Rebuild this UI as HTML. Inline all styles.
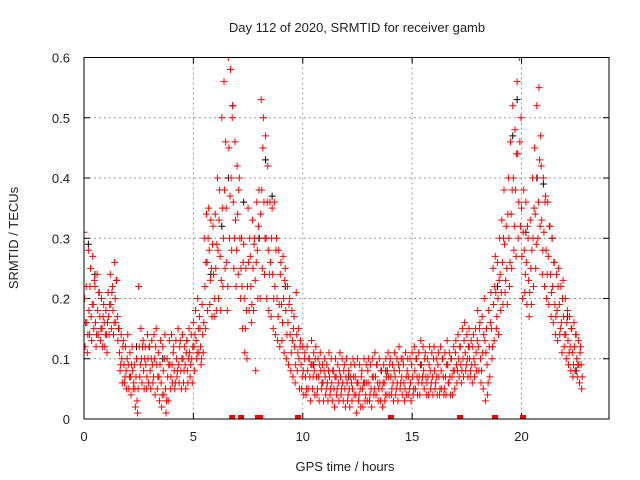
<!DOCTYPE html>
<html><head><meta charset="utf-8"><style>
body{margin:0;background:#fff}
svg{display:block;font-family:"Liberation Sans",sans-serif}
</style></head><body>
<svg id="chart" width="640" height="480">
<text x="357" y="32" text-anchor="middle" font-size="13" fill="#222">Day 112 of 2020, SRMTID for receiver gamb</text>
<text transform="translate(18,238) rotate(-90)" text-anchor="middle" font-size="13" fill="#222">SRMTID / TECUs</text>
<text x="345" y="471" text-anchor="middle" font-size="13" fill="#222">GPS time / hours</text>
<defs><clipPath id="pc"><rect x="84" y="57.5" width="525" height="361.5"/></clipPath></defs>
<g id="grid"></g>
<g id="ticks"></g>
<g id="marks" clip-path="url(#pc)"></g>
<rect x="84" y="57.5" width="525" height="361.5" fill="none" stroke="#000" stroke-width="1"/>
</svg>
<script>
const xTicks=[0,5,10,15,20];
const yTicks=[0,0.1,0.2,0.3,0.4,0.5,0.6];
const yTickLabels=["0","0.1","0.2","0.3","0.4","0.5","0.6"];
const epochStep=0.1;
const seriesA=[.31,.22,.28,.25,.27,.22,.24,.21,.20,.19,.18,.21,.24,.22,.26,.23,.15,.14,.13,.12,.14,.11,.12,.09,.10,.22,.15,.13,.12,.14,.12,.13,.14,.15,.11,.13,.12,.14,.10,.13,.14,.12,.13,.15,.13,.14,.12,.13,.15,.14,.16,.18,.20,.15,.19,.30,.34,.35,.33,.32,.34,.40,.38,.50,.56,.35,.60,.58,.52,.46,.42,.40,.30,.29,.25,.35,.27,.33,.30,.36,.38,.53,.50,.47,.42,.36,.35,.36,.30,.28,.26,.27,.25,.22,.20,.18,.17,.21,.15,.13,.12,.11,.12,.10,.13,.11,.12,.10,.11,.09,.10,.09,.11,.10,.08,.10,.09,.11,.10,.09,.10,.08,.09,.10,.07,.10,.09,.08,.10,.09,.10,.09,.10,.11,.09,.10,.08,.09,.10,.11,.10,.09,.11,.10,.12,.10,.09,.11,.10,.10,.11,.12,.10,.11,.13,.12,.11,.10,.12,.11,.12,.10,.11,.12,.10,.11,.13,.11,.10,.12,.13,.14,.12,.15,.16,.14,.15,.13,.14,.15,.18,.16,.17,.20,.15,.18,.21,.25,.27,.26,.30,.33,.38,.32,.40,.46,.52,.48,.56,.60,.35,.38,.36,.30,.33,.40,.45,.52,.55,.42,.40,.37,.36,.32,.30,.26,.24,.25,.22,.23,.20,.18,.17,.15,.16,.14,.13,.12];
const seriesB=[.20,.16,.18,.17,.19,.16,.18,.17,.15,.16,.14,.17,.19,.18,.20,.17,.11,.10,.09,.08,.09,.07,.08,.05,.03,.12,.10,.08,.09,.10,.08,.09,.10,.09,.07,.06,.08,.05,.07,.09,.09,.08,.10,.09,.08,.10,.09,.08,.11,.10,.12,.13,.15,.12,.14,.22,.26,.28,.25,.24,.25,.28,.27,.35,.38,.26,.45,.40,.36,.33,.34,.30,.22,.20,.18,.26,.22,.25,.23,.28,.30,.38,.36,.30,.28,.26,.24,.22,.20,.19,.19,.20,.18,.16,.14,.13,.12,.14,.10,.09,.08,.07,.08,.07,.09,.08,.07,.07,.08,.06,.07,.06,.07,.06,.05,.07,.06,.07,.06,.05,.06,.05,.06,.07,.04,.06,.05,.05,.06,.06,.06,.05,.07,.07,.06,.06,.05,.06,.07,.07,.07,.06,.07,.06,.08,.07,.06,.07,.07,.06,.07,.08,.07,.07,.09,.08,.07,.07,.08,.07,.08,.07,.07,.08,.07,.07,.09,.07,.07,.08,.09,.10,.09,.10,.11,.10,.10,.09,.10,.11,.12,.10,.11,.13,.09,.12,.15,.19,.21,.20,.24,.26,.29,.25,.30,.34,.40,.38,.44,.46,.27,.28,.26,.23,.25,.30,.34,.40,.43,.33,.31,.28,.27,.24,.22,.19,.18,.19,.16,.17,.14,.13,.12,.11,.12,.10,.09,.09];
const seriesC=[.12,.11,.14,.13,.15,.12,.14,.13,.12,.12,.11,.14,.15,.14,.16,.13,.08,.06,.06,.05,.05,.04,.05,.02,.01,.07,.06,.05,.05,.06,.05,.06,.04,.05,.03,.02,.04,.01,.03,.05,.06,.05,.07,.06,.05,.06,.05,.06,.07,.06,.08,.10,.11,.09,.11,.15,.18,.19,.17,.17,.18,.20,.18,.22,.25,.18,.30,.28,.25,.22,.24,.20,.15,.11,.10,.18,.16,.18,.08,.20,.20,.25,.24,.20,.18,.17,.15,.14,.13,.12,.13,.11,.10,.09,.08,.07,.06,.08,.05,.05,.04,.04,.05,.03,.05,.04,.04,.03,.05,.03,.04,.03,.04,.03,.02,.04,.03,.04,.03,.02,.03,.02,.03,.04,.01,.03,.02,.02,.03,.03,.03,.02,.04,.04,.03,.03,.02,.03,.04,.04,.04,.03,.04,.03,.05,.04,.03,.04,.04,.03,.04,.05,.04,.04,.06,.05,.04,.04,.05,.04,.05,.04,.04,.05,.04,.04,.06,.04,.04,.05,.06,.07,.06,.07,.08,.07,.07,.06,.07,.08,.08,.06,.05,.03,.04,.07,.10,.13,.15,.14,.18,.19,.21,.19,.22,.25,.28,.27,.30,.32,.20,.21,.19,.17,.19,.22,.25,.30,.32,.24,.22,.20,.19,.17,.16,.14,.13,.14,.11,.12,.10,.09,.08,.07,.08,.07,.06,.05];
const seriesD=[.16,.14,.22,.19,.23,.14,.21,.15,.17,.14,.16,.19,.21,.16,.23,.15,.09,.12,.07,.10,.07,.09,.06,.07,.05,.09,.12,.10,.07,.12,.10,.07,.12,.07,.09,.04,.10,.03,.09,.07,.11,.06,.08,.12,.10,.08,.11,.10,.09,.12,.14,.11,.17,.10,.16,.26,.30,.23,.29,.20,.29,.33,.23,.30,.46,.22,.37,.50,.30,.28,.38,.25,.26,.15,.22,.30,.19,.29,.26,.32,.34,.45,.30,.36,.24,.30,.20,.28,.17,.24,.16,.23,.14,.19,.11,.15,.09,.11,.12,.07,.10,.05,.10,.09,.07,.10,.05,.09,.06,.08,.05,.08,.05,.08,.07,.05,.08,.05,.08,.07,.04,.07,.05,.09,.06,.04,.07,.06,.04,.08,.04,.07,.05,.09,.05,.08,.06,.04,.08,.09,.05,.08,.05,.09,.06,.10,.05,.08,.05,.09,.05,.10,.06,.09,.07,.10,.06,.09,.06,.10,.06,.09,.05,.10,.05,.09,.06,.10,.08,.11,.08,.12,.08,.13,.09,.12,.08,.12,.09,.13,.15,.08,.14,.11,.06,.16,.12,.22,.17,.23,.21,.30,.23,.34,.26,.38,.32,.44,.36,.50,.31,.24,.32,.21,.28,.35,.29,.36,.47,.28,.36,.24,.32,.21,.26,.17,.22,.15,.20,.14,.16,.11,.15,.09,.14,.09,.11,.07];
const blackHours=[0.2,0.5,1.1,2.4,3.6,4.7,5.8,6.3,6.6,6.8,7.3,8.0,8.3,8.6,9.2,10.5,12.1,13.8,15.4,17.6,18.9,19.6,19.8,20.2,20.7,21.0,21.4,22.1,22.5];
const blackVals=[0.29,0.24,0.21,0.12,0.10,0.13,0.24,0.32,0.40,0.52,0.36,0.30,0.43,0.37,0.22,0.09,0.07,0.08,0.09,0.12,0.22,0.47,0.53,0.31,0.40,0.39,0.30,0.17,0.08];
const zeroHours=[6.77,7.18,7.95,8.05,9.78,14.03,17.19,18.79,20.07];
const X0=84,X1=609,Y0=419,Y1=57.5,XMAX=24,YMAX=0.6;
const xs=h=>X0+(X1-X0)*h/XMAX;
const ys=v=>Y0-(Y0-Y1)*v/YMAX;
const NS="http://www.w3.org/2000/svg";
const grid=document.getElementById('grid'),ticks=document.getElementById('ticks'),marks=document.getElementById('marks');
function mk(tag,attrs,parent){const e=document.createElementNS(NS,tag);for(const k in attrs)e.setAttribute(k,attrs[k]);parent.appendChild(e);return e;}
xTicks.forEach(t=>{
  const x=xs(t);
  if(t>0){const g=mk('line',{x1:x,x2:x,y1:Y1,y2:Y0,stroke:'#999','stroke-dasharray':'2,3'},grid);
  
  }
  mk('line',{x1:x,x2:x,y1:Y0,y2:Y0-6,stroke:'#000'},ticks);
  mk('line',{x1:x,x2:x,y1:Y1,y2:Y1+6,stroke:'#000'},ticks);
  const l=mk('text',{x:x,y:Y0+22,'text-anchor':'middle','font-size':'13',fill:'#222'},ticks);l.textContent=String(t);
  
  
});
yTicks.forEach((t,i)=>{
  const y=ys(t);
  if(t>0&&t<YMAX){const g=mk('line',{x1:X0,x2:X1,y1:y,y2:y,stroke:'#999','stroke-dasharray':'2,3'},grid);
  
  }
  mk('line',{x1:X0,x2:X0+6,y1:y,y2:y,stroke:'#000'},ticks);
  mk('line',{x1:X1,x2:X1-6,y1:y,y2:y,stroke:'#000'},ticks);
  const l=mk('text',{x:X0-14,y:y+5,'text-anchor':'end','font-size':'13',fill:'#222'},ticks);l.textContent=yTickLabels[i];
  
  
});
function plus(h,v,color,name){
  const x=xs(h),y=ys(v);
  const p=mk('path',{d:`M${x-3.5},${y}H${x+3.5}M${x},${y-3.5}V${y+3.5}`,stroke:color,'stroke-width':'1',fill:'none'},marks);
  
  
}
blackHours.forEach((h,i)=>plus(h,blackVals[i],'#000','black-point'));
[seriesA,seriesB,seriesC,seriesD].forEach((s,k)=>s.forEach((v,i)=>plus(i*epochStep+k*0.025,v,'#f00','red-point')));
zeroHours.forEach(h=>{const x=xs(h);const r=mk('rect',{x:x-3,y:Y0-4,width:6,height:4,fill:'#f00'},marks);

});
</script>
</body></html>
